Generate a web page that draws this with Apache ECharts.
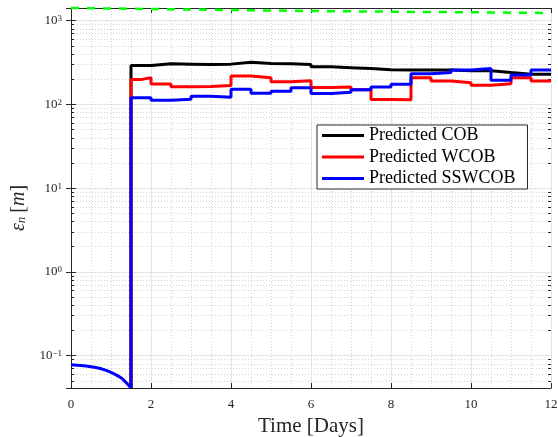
<!DOCTYPE html>
<html>
<head>
<meta charset="utf-8">
<script src="https://cdn.jsdelivr.net/npm/echarts@6/dist/echarts.min.js"></script>
<style>
  html, body { margin: 0; padding: 0; background: #fff; }
  #chart { width: 558px; height: 437px; }
</style>
</head>
<body>
<div id="chart"></div>
<script>
const SERIF = '"Liberation Serif", "DejaVu Serif", serif';

// step breakpoints (days), value holds until the next breakpoint
const stepDays = [1.5, 1.75, 2, 2.5, 3, 3.5, 4, 4.5, 5, 5.5, 6, 6.5, 7, 7.5, 8, 8.5, 9, 9.5, 10, 10.5, 11, 11.5, 12];
const cob    = [291, 291, 307, 303, 299, 303, 320, 309, 307, 299, 281, 275, 269, 260, 257, 257, 257, 253, 253, 240, 230, 230, 230];
const wcob   = [198, 209, 175, 163, 164, 168, 218, 209, 187, 192, 159, 161, 150, 114.5, 114, 209, 191, 181, 170, 177, 209, 191, 191];
const sswcob = [120, 120, 112, 115, 125, 122, 152, 136, 144, 158, 135, 140, 150, 161, 174, 233, 240, 257, 268, 195, 224, 257, 257];

// shared curve before the first update
const earlyDays = [0, 0.25, 0.5, 0.75, 1, 1.25, 1.4, 1.5];
const earlyVals = [0.0779, 0.0764, 0.0737, 0.0698, 0.0633, 0.0545, 0.0465, 0.0411];

// green dashed reference line
const refDays = [0, 2, 4, 6, 8, 10, 12];
const refVals = [1418, 1379, 1342, 1306, 1281, 1260, 1236];

const Y_MIN = 0.0411, Y_MAX = 1418;

const minorVals = [];
for (let k = -2; k <= 3; k++) {
  for (let m = 2; m <= 9; m++) {
    const v = m * Math.pow(10, k);
    if (v > Y_MIN && v < Y_MAX) minorVals.push(v);
  }
}

const AXIS_LINE = { lineStyle: { color: '#262626', width: 1 } };
const MINOR_GRID = { color: '#d2d2d2', type: [1, 2], width: 1 };
const MAJOR_GRID = { color: '#e4e4e4', width: 1 };

function decadeLabel(v) {
  const e = Math.log10(v);
  const k = Math.round(e);
  if (Math.abs(e - k) > 1e-6) return '';
  return '{b|10}{s|' + (k < 0 ? '\u2212' + (-k) : k) + '}';
}

function stepData(vals) {
  const d = [[1.5, earlyVals[earlyVals.length - 1]]];
  stepDays.forEach((t, i) => d.push([t, vals[i]]));
  return d;
}

function stepSeries(name, vals, color) {
  return {
    name, type: 'line', step: 'end', data: stepData(vals),
    showSymbol: false, color, lineStyle: { color, width: 3 }, z: 3,
  };
}

const xBase = { type: 'value', min: 0, max: 12, interval: 2, axisLine: AXIS_LINE };
const yBase = { type: 'log', logBase: 10, min: Y_MIN, max: Y_MAX, axisLine: AXIS_LINE };

const chart = echarts.init(document.getElementById('chart'));
chart.setOption({
  animation: false,
  backgroundColor: '#fff',
  grid: { left: 71, right: 7, top: 8, bottom: 49, outerBoundsMode: 'none', containLabel: false },
  legend: {
    data: ['Predicted COB', 'Predicted WCOB', 'Predicted SSWCOB'],
    orient: 'vertical', left: 317, top: 125,
    icon: 'rect', itemWidth: 42, itemHeight: 3, itemGap: 2.5,
    padding: [1, 12, 1, 5],
    backgroundColor: '#fff', borderColor: '#262626', borderWidth: 1, borderRadius: 0,
    textStyle: { fontFamily: SERIF, fontSize: 18, color: '#000', lineHeight: 19 },
  },
  xAxis: [
    {
      ...xBase, position: 'bottom',
      axisTick: { inside: true, length: 5, lineStyle: { color: '#262626' } },
      axisLabel: { fontFamily: SERIF, fontSize: 13, color: '#262626', margin: 10 },
      splitLine: { show: true, lineStyle: MAJOR_GRID },
      minorTick: { show: false, splitNumber: 4 },
      minorSplitLine: { show: true, lineStyle: MINOR_GRID },
      name: 'Time [Days]', nameLocation: 'middle', nameGap: 28,
      nameTextStyle: { fontFamily: SERIF, fontSize: 21, color: '#262626' },
    },
    {
      ...xBase, position: 'top',
      axisTick: { inside: true, length: 5, lineStyle: { color: '#262626' } },
      axisLabel: { show: false }, splitLine: { show: false },
    },
  ],
  yAxis: [
    {
      ...yBase, position: 'left',
      axisTick: { inside: true, length: 5, lineStyle: { color: '#262626' } },
      axisLabel: {
        formatter: decadeLabel, margin: 9, color: '#262626',
        rich: {
          b: { fontFamily: SERIF, fontSize: 13, color: '#262626' },
          s: { fontFamily: SERIF, fontSize: 9, color: '#262626', verticalAlign: 'top' },
        },
      },
      splitLine: { show: true, lineStyle: MAJOR_GRID },
      name: '{e|\u03b5}{n|n}{t|\u2009[}{e|m}{t|]}',
      nameLocation: 'middle', nameGap: 34, nameRotate: 90,
      nameTextStyle: {
        padding: [0, 20, 0, 0],
        rich: {
          e: { fontFamily: SERIF, fontStyle: 'italic', fontSize: 20, color: '#262626' },
          n: { fontFamily: SERIF, fontStyle: 'italic', fontSize: 13, color: '#262626', verticalAlign: 'bottom' },
          t: { fontFamily: SERIF, fontSize: 20, color: '#262626' },
        },
      },
    },
    {
      ...yBase, position: 'right',
      axisTick: { inside: true, length: 5, lineStyle: { color: '#262626' } },
      axisLabel: { show: false }, splitLine: { show: false },
    },
    {
      ...yBase, position: 'left', axisLine: { show: false },
      axisTick: { inside: true, length: 3, customValues: minorVals, lineStyle: { color: '#262626' } },
      axisLabel: { show: false },
      splitLine: { show: true, lineStyle: MINOR_GRID },
    },
    {
      ...yBase, position: 'right', axisLine: { show: false },
      axisTick: { inside: true, length: 3, customValues: minorVals, lineStyle: { color: '#262626' } },
      axisLabel: { show: false }, splitLine: { show: false },
    },
  ],
  series: [
    {
      name: 'reference', type: 'line', data: refDays.map((t, i) => [t, refVals[i]]),
      showSymbol: false, clip: false, color: '#00ff00',
      lineStyle: { color: '#00ff00', width: 2.5, type: [8, 8] }, z: 2,
    },
    stepSeries('Predicted COB', cob, '#000000'),
    stepSeries('Predicted WCOB', wcob, '#ff0000'),
    stepSeries('Predicted SSWCOB', sswcob, '#0000ff'),
    {
      name: 'early', type: 'line', smooth: 0.3, data: earlyDays.map((t, i) => [t, earlyVals[i]]),
      showSymbol: false, color: '#0000ff', lineStyle: { color: '#0000ff', width: 3 }, z: 4,
    },
  ],
});
</script>
</body>
</html>
